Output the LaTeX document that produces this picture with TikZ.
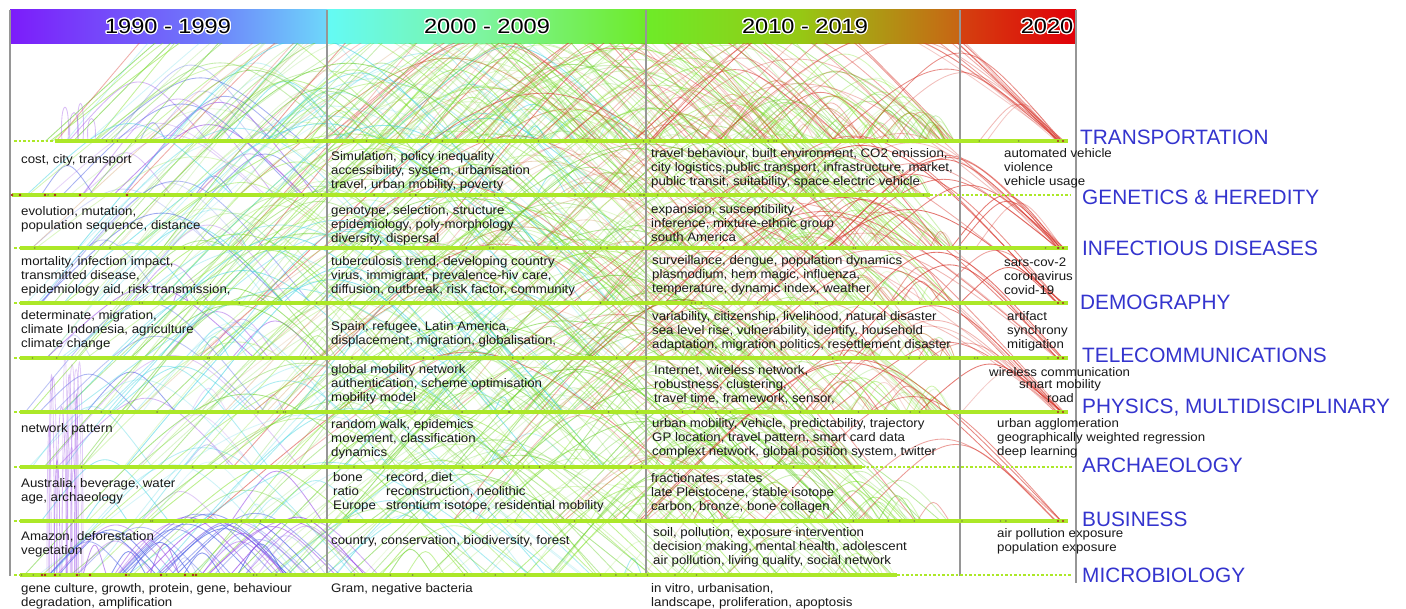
\documentclass[tikz,border=0pt]{standalone}
\usepackage{fontspec}
\setmainfont{Liberation Sans}
\newfontfamily\bodyfont{Liberation Sans}[FakeStretch=1.07]
\newfontfamily\hdrfont{Liberation Sans}[FakeStretch=1.15]
\usepackage[copies]{contour}
\contourlength{1.3pt}
\contournumber{16}
\definecolor{catblue}{RGB}{52,52,206}
\definecolor{linegreen}{RGB}{172,232,40}
\definecolor{divgray}{RGB}{150,150,150}
\definecolor{dotc}{RGB}{110,105,70}
\definecolor{dotred}{RGB}{170,40,30}
\definecolor{arc0}{RGB}{150,70,230}
\definecolor{arc1}{RGB}{80,100,230}
\definecolor{arc2}{RGB}{60,210,225}
\definecolor{arc3}{RGB}{135,228,50}
\definecolor{arc4}{RGB}{95,205,30}
\definecolor{arc5}{RGB}{215,50,40}
\definecolor{arc6}{RGB}{190,110,30}
\definecolor{hp1}{RGB}{124,28,250}
\definecolor{hp2}{RGB}{110,120,250}
\definecolor{hp3}{RGB}{110,215,250}
\definecolor{hp4}{RGB}{100,250,245}
\definecolor{hp5}{RGB}{125,245,160}
\definecolor{hp6}{RGB}{110,235,40}
\definecolor{hp7}{RGB}{150,200,20}
\definecolor{hp8}{RGB}{200,100,20}
\definecolor{hp9}{RGB}{212,65,15}
\definecolor{hp10}{RGB}{225,0,10}
\tikzset{
  kw/.style={anchor=west, inner sep=0pt, align=left, text=black!90,
    font=\bodyfont\fontsize{12.4}{13.9}\selectfont},
  cat/.style={anchor=west, inner sep=0pt, text=catblue,
    font=\fontsize{20.8}{22}\selectfont},
  period/.style={inner sep=0pt, font=\hdrfont\fontsize{20.5}{22}\selectfont},
  divider/.style={draw=divgray, line width=1.1pt},
  trackline/.style={draw=linegreen, line width=3.8pt},
  trackdots/.style={draw=linegreen, line width=1.3pt, dash pattern=on 2.5pt off 2pt},
  arcline/.style={line width=0.85pt},
}
\begin{document}
\begin{tikzpicture}[x=1pt,y=-1pt]
\useasboundingbox[fill=white] (0,0) rectangle (1406,609);

% header gradient
\shade[left color=hp1, right color=hp2] (10,10) rectangle (200.5,44);
\shade[left color=hp2, right color=hp3] (200,10) rectangle (327.5,44);
\shade[left color=hp4, right color=hp5] (327,10) rectangle (480.5,44);
\shade[left color=hp5, right color=hp6] (480,10) rectangle (646.5,44);
\shade[left color=hp6, right color=hp7] (646,10) rectangle (800.5,44);
\shade[left color=hp7, right color=hp8] (800,10) rectangle (960.5,44);
\shade[left color=hp9, right color=hp10] (960,10) rectangle (1076,44);

% arcs
\begin{scope}
\clip (10,44) rectangle (1076,582);
\pgfmathsetseed{11}
\foreach \yy/\xs/\xf/\nn/\pr in {141/45/955/160/0.5, 195/12/930/85/0.35, 248/20/955/100/0.35, 303/20/955/95/0.3,
  358/20/955/80/0.3, 412/20/955/105/0.25, 467/20/862/80/0.2, 521/20/955/75/0.2, 575/20/897/75/0.12}{
  \foreach \k in {1,...,\nn}{
    \pgfmathsetmacro\xa{\xs+rnd*(\xf-\xs-15)}
    \pgfmathsetmacro\xb{\xa+15+rnd*min(650,\xf-\xa-15)}
    \pgfmathsetmacro\xm{(\xa+\xb)/2}
    \pgfmathsetmacro\ct{\yy-2*(6+(0.17+0.14*rnd)*(\xb-\xa))}
    \pgfmathtruncatemacro\ci{\xb<327 ? int(rnd*3) : (\xb<646 ? (rnd<0.4 ? 2 : 3+int(rnd*2)) : (rnd<\pr ? 5+int(rnd*2) : 3+int(rnd*2)))}
    \pgfmathsetmacro\op{0.15+0.42*rnd}
    \draw[arcline, draw=arc\ci, draw opacity=\op] (\xa,\yy) .. controls (\xm,\ct) .. (\xb,\yy);
  }
}
% red arcs into the 2020 end of several tracks
\foreach \yy/\nn in {141/16, 248/13, 303/7, 358/7, 412/13, 521/5}{
  \foreach \k in {1,...,\nn}{
    \pgfmathsetmacro\xa{520+rnd*480}
    \pgfmathsetmacro\xb{1055+rnd*9}
    \pgfmathsetmacro\xm{(\xa+\xb)/2}
    \pgfmathsetmacro\ct{\yy-2*(8+(0.16+0.1*rnd)*(\xb-\xa))}
    \pgfmathsetmacro\op{0.25+0.45*rnd}
    \draw[arcline, draw=arc5, draw opacity=\op] (\xa,\yy) .. controls (\xm,\ct) .. (\xb,\yy);
  }
}
% narrow tall purple arcs in the first column
\foreach \k in {1,...,14}{
  \pgfmathsetmacro\xa{38+rnd*45}
  \pgfmathsetmacro\xb{\xa+3+rnd*8}
  \pgfmathsetmacro\ct{575-(140+rnd*160)}
  \pgfmathsetmacro\op{0.2+0.3*rnd}
  \draw[arcline, draw=arc0, draw opacity=\op] (\xa,575) .. controls (\xa,\ct) and (\xb,\ct) .. (\xb,575);
}
% purple / blue arcs on the microbiology track, first column
\foreach \k in {1,...,34}{
  \pgfmathsetmacro\xa{35+rnd*230}
  \pgfmathsetmacro\xb{\xa+20+rnd*150}
  \pgfmathsetmacro\xm{(\xa+\xb)/2}
  \pgfmathsetmacro\ct{575-2*(8+0.17*(\xb-\xa)+8*rnd)}
  \pgfmathtruncatemacro\ci{int(rnd*2)}
  \pgfmathsetmacro\op{0.3+0.4*rnd}
  \draw[arcline, draw=arc\ci, draw opacity=\op] (\xa,575) .. controls (\xm,\ct) .. (\xb,575);
}
% small purple loops above the transportation track
\foreach \xa/\w/\h in {62/6/45, 70/8/38, 78/5/50, 88/7/30}{
  \draw[arcline, draw=arc0, draw opacity=0.35] (\xa,141) .. controls (\xa-3,141-\h) and (\xa+\w+3,141-\h) .. (\xa+\w,141);
}
\end{scope}

% dividers and borders
\draw[divider] (10,10) -- (10,576);
\draw[divider] (327,10) -- (327,576);
\draw[divider] (646,10) -- (646,576);
\draw[divider] (960,10) -- (960,576);
\draw[divider] (1076,10) -- (1076,583);

% tracks
\foreach \yy/\xs/\xe in {141/55/1068, 248/20/1068, 303/20/1068, 358/20/1068, 412/20/1068, 521/20/1068}{
  \draw[trackdots] (14,\yy) -- (\xs,\yy);
  \draw[trackline] (\xs,\yy) -- (\xe,\yy);
}
\draw[trackline] (12,195) -- (930,195);
\draw[trackdots] (930,195) -- (1070,195);
\draw[trackdots] (14,467) -- (20,467);
\draw[trackline] (20,467) -- (862,467);
\draw[trackdots] (862,467) -- (1072,467);
\draw[trackdots] (14,575) -- (20,575);
\draw[trackline] (20,575) -- (897,575);
\draw[trackdots] (897,575) -- (1072,575);

% keyword dots
\pgfmathsetseed{5}
\foreach \yy/\xs/\xe in {141/55/1060, 195/12/930, 248/20/1060, 303/20/1060, 358/20/1060, 412/20/1060, 467/20/862, 521/20/1060, 575/20/897}{
  \foreach \k in {1,...,22}{
    \pgfmathsetmacro\xd{\xs+rnd*(\xe-\xs)}
    \fill[dotc, opacity=0.7] (\xd,\yy) circle (0.9);
  }
}
\foreach \xx in {12,20,45,55,80,127} {\fill[dotred] (\xx,195) circle (1.3);}
\foreach \xx in {42,45,55,77,90,126,161,185,193,196} {\fill[dotred] (\xx,575) circle (1.3);}
\foreach \yy in {141,248,303,358,412,521} {\fill[dotred] (1058,\yy) circle (1.2); \fill[dotred] (1063,\yy) circle (1.2);}

% header labels
\node[period] (p1) at (168,27) {\contour{white}{1990 - 1999}};
\node[period] (p2) at (487,27) {\contour{white}{2000 - 2009}};
\node[period] (p3) at (805,27) {\contour{white}{2010 - 2019}};
\node[period] (p4) at (1047,27) {\contour{white}{2020}};

% category labels
\node[cat] (c1) at (1080,137) {TRANSPORTATION};
\node[cat] (c2) at (1082,197) {GENETICS \& HEREDITY};
\node[cat] (c3) at (1082,248) {INFECTIOUS DISEASES};
\node[cat] (c4) at (1080,302) {DEMOGRAPHY};
\node[cat] (c5) at (1082,355) {TELECOMMUNICATIONS};
\node[cat] (c6) at (1082,408) {PHYSICS, MULTIDISCIPLINARY};
\node[cat] (c7) at (1082,465) {ARCHAEOLOGY};
\node[cat] (c8) at (1082,519) {BUSINESS};
\node[cat] (c9) at (1082,575) {MICROBIOLOGY};

% column 1990-1999
\node[kw] (t11) at (21,160) {cost, city, transport};
\node[kw] (t12) at (21,219.5) {evolution, mutation,\\population sequence, distance};
\node[kw] (t13) at (21,276) {mortality, infection impact,\\transmitted disease,\\epidemiology aid, risk transmission,};
\node[kw] (t14) at (21,330) {determinate, migration,\\climate Indonesia, agriculture\\climate change};
\node[kw] (t16) at (21,429) {network pattern};
\node[kw] (t17) at (21,491.5) {Australia, beverage, water\\age, archaeology};
\node[kw] (t18) at (21,544.5) {Amazon, deforestation\\vegetation};
\node[kw] (t19) at (21,596.5) {gene culture, growth, protein, gene, behaviour\\degradation, amplification};

% column 2000-2009
\node[kw] (t21) at (331,171) {Simulation, policy inequality\\accessibility, system, urbanisation\\travel, urban mobility, poverty};
\node[kw] (t22) at (331,225) {genotype, selection, structure\\epidemiology, poly-morphology\\diversity, dispersal};
\node[kw] (t23) at (331,276) {tuberculosis trend, developing country\\virus, immigrant, prevalence-hiv care,\\diffusion, outbreak, risk factor, community};
\node[kw] (t24) at (331,334.5) {Spain, refugee, Latin America,\\displacement, migration, globalisation,};
\node[kw] (t25) at (331,384.5) {global mobility network\\authentication, scheme optimisation\\mobility model};
\node[kw] (t26) at (331,439) {random walk, epidemics\\movement, classification\\dynamics};
\node[kw] (t27a) at (333,492.5) {bone\\ratio\\Europe};
\node[kw] (t27b) at (386,492.5) {record, diet\\reconstruction, neolithic\\strontium isotope, residential mobility};
\node[kw] (t28) at (331,541) {country, conservation, biodiversity, forest};
\node[kw] (t29) at (331,589) {Gram, negative bacteria};

% column 2010-2019
\node[kw] (t31) at (651,168) {travel behaviour, built environment, CO2 emission,\\city logistics,public transport, infrastructure, market,\\public transit, suitability, space electric vehicle};
\node[kw] (t32) at (651,223) {expansion, susceptibility\\inference, mixture-ethnic group\\south America};
\node[kw] (t33) at (652,275.5) {surveillance, dengue, population dynamics\\plasmodium, hem magic, influenza,\\temperature, dynamic index, weather};
\node[kw] (t34) at (652,331) {variability, citizenship, livelihood, natural disaster\\sea level rise, vulnerability, identify, household\\adaptation, migration politics, resettlement disaster};
\node[kw] (t35) at (654,384.5) {Internet, wireless network,\\robustness, clustering,\\travel time, framework, sensor,};
\node[kw] (t36) at (652,438.5) {urban mobility, vehicle, predictability, trajectory\\GP location, travel pattern, smart card data\\complext network, global position system, twitter};
\node[kw] (t37) at (651,493) {fractionates, states\\late Pleistocene, stable isotope\\carbon, bronze, bone collagen};
\node[kw] (t38) at (653,547) {soil, pollution, exposure intervention\\decision making, mental health, adolescent\\air pollution, living quality, social network};
\node[kw] (t39) at (651,596) {in vitro, urbanisation,\\landscape, proliferation, apoptosis};

% column 2020
\node[kw] (t41) at (1004,168) {automated vehicle\\violence\\vehicle usage};
\node[kw] (t43) at (1004,276.5) {sars-cov-2\\coronavirus\\covid-19};
\node[kw] (t44) at (1007,331.5) {artifact\\synchrony\\mitigation};
\node[kw] (t45a) at (989,372) {wireless communication};
\node[kw] (t45b) at (1019,385) {smart mobility};
\node[kw] (t45c) at (1047,398) {road};
\node[kw] (t46) at (997,438.5) {urban agglomeration\\geographically weighted regression\\deep learning};
\node[kw] (t48) at (997,541) {air pollution exposure\\population exposure};
\end{tikzpicture}
\end{document}
